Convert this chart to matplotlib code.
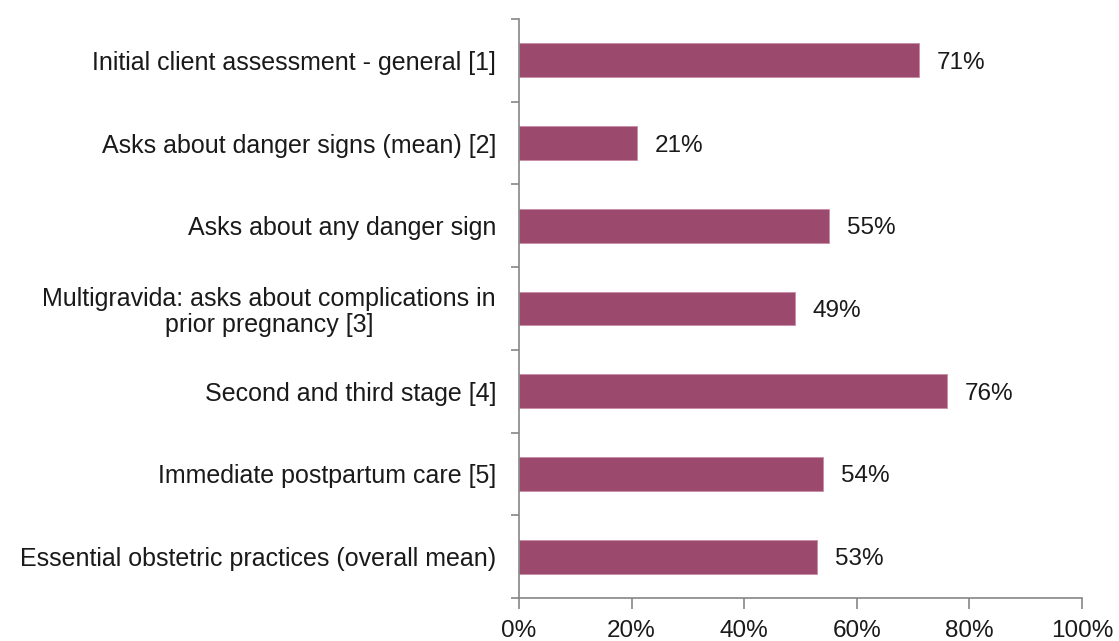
import matplotlib
matplotlib.use("Agg")
import matplotlib.pyplot as plt
import numpy as np
from matplotlib.ticker import FixedLocator, FuncFormatter

categories = [
    "Initial client assessment - general [1]",
    "Asks about danger signs (mean) [2]",
    "Asks about any danger sign",
    "Multigravida: asks about complications in\nprior pregnancy [3]",
    "Second and third stage [4]",
    "Immediate postpartum care [5]",
    "Essential obstetric practices (overall mean)",
]
values = [71, 21, 55, 49, 76, 54, 53]
xticks = [0, 20, 40, 60, 80, 100]

plt.rcParams['font.family'] = ['Liberation Sans', 'DejaVu Sans']
FS = 17.5

fig = plt.figure(figsize=(11.19, 6.41), dpi=100)
ax = fig.add_axes([519/1119, 1-598/641, (1082-519)/1119, (598-19)/641])

pos = np.arange(len(categories))
ax.barh(pos, values, height=0.41, color='#9B4A6E', edgecolor='#C98CA6', linewidth=0.6)
for p, v in zip(pos, values):
    ax.text(v + 3.2, p + 0.03, f"{v}%", va='center', ha='left', fontsize=FS, color='#1a1a1a')

ax.set_ylim(len(categories) - 0.5, -0.5)
ax.set_xlim(0, 100)
ax.set_yticks(pos)
ax.set_yticklabels(categories, fontsize=18, color='#1a1a1a', ha='right',
                   multialignment='center', linespacing=1.12)
ax.tick_params(axis='y', which='major', length=0, pad=16.5)
ax.yaxis.set_minor_locator(FixedLocator(np.arange(-0.5, len(categories)+0.5, 1)))
ax.tick_params(axis='y', which='minor', length=6, width=1.2, color='#868686', direction='out')

ax.set_xticks(xticks)
ax.xaxis.set_major_formatter(FuncFormatter(lambda x, _: f"{int(x)}%"))
ax.tick_params(axis='x', length=8, width=1.2, color='#868686', direction='out',
               labelsize=FS, pad=7.5, labelcolor='#1a1a1a')

for s in ['top', 'right']:
    ax.spines[s].set_visible(False)
for s in ['left', 'bottom']:
    ax.spines[s].set_color('#868686')
    ax.spines[s].set_linewidth(1.2)

fig.savefig("out.png", dpi=100)
